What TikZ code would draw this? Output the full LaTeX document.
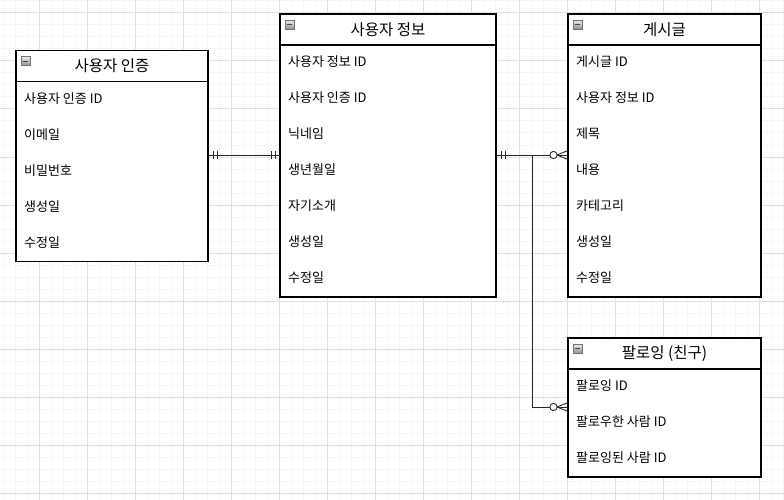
\documentclass[tikz,border=0pt]{standalone}
\usepackage{fontspec}
\setmainfont{Noto Sans CJK KR}
\usetikzlibrary{positioning}
\usetikzlibrary{calc}

\begin{document}
\begin{tikzpicture}[x=1pt, y=-1pt,
        hdr/.style={draw, line width=1.3pt, fill=white, minimum height=31pt, inner sep=0pt, outer sep=0pt, anchor=north west, font=\fontsize{15.5}{18}\selectfont},
        body/.style={draw, line width=1.3pt, fill=white, inner sep=0pt, outer sep=0pt, anchor=north west},
        row/.style={anchor=west, inner sep=0pt, font=\fontsize{13}{15}\selectfont},
        icon/.style={draw=black!55, top color=black!8, bottom color=black!45, minimum size=9pt, inner sep=0pt, anchor=north west,
            path picture={\draw[black!75, line width=1pt] ([xshift=2pt]path picture bounding box.west) -- ([xshift=-2pt]path picture bounding box.east);}},
        rel/.style={draw=black!85, line width=0.9pt},
        bars/.pic={\draw[rel] (5,-4) -- (5,4) (9,-4) -- (9,4);},
        foot/.pic={\draw[rel] (0,-4.5) -- (11,0) -- (0,4.5); \draw[rel, fill=white] (14.5,0) circle (3.6pt);}]
        \useasboundingbox (0,0) rectangle (784,500);

        % grid
        \foreach \x in {0,...,65} \draw[black!4, line width=1pt] ({3.5+12*\x},0) -- ({3.5+12*\x},500);
        \foreach \y in {0,...,41} \draw[black!4, line width=1pt] (0,{1+12*\y}) -- (784,{1+12*\y});
        \foreach \x in {0,...,15} \draw[black!12, line width=1pt] ({39.5+48*\x},0) -- ({39.5+48*\x},500);
        \foreach \y in {0,...,10} \draw[black!12, line width=1pt] (0,{13+48*\y}) -- (784,{13+48*\y});

        % entities
        \node[hdr, minimum width=192pt] (auth) at (16,50.5) {사용자 인증};
        \node[body, minimum width=192pt, minimum height=180pt] (authb) at (auth.south west) {};
        \node[hdr, minimum width=216pt] (info) at (280,14) {사용자 정보};
        \node[body, minimum width=216pt, minimum height=252pt] (infob) at (info.south west) {};
        \node[hdr, minimum width=193pt] (post) at (568,14) {게시글};
        \node[body, minimum width=193pt, minimum height=252pt] (postb) at (post.south west) {};
        \node[hdr, minimum width=193pt] (foll) at (568,338) {팔로잉 (친구)};
        \node[body, minimum width=193pt, minimum height=108pt] (follb) at (foll.south west) {};

        \foreach \e in {auth, info, post, foll}
            \node[icon] (\e i) at ([shift={(5,6)}]\e.north west) {};

        \foreach \t [count=\i] in {사용자 인증 ID, 이메일, 비밀번호, 생성일, 수정일}
            \node[row] (auth\i) at ($(authb.north west)+(8,{17+36*(\i-1)})$) {\t};
        \foreach \t [count=\i] in {사용자 정보 ID, 사용자 인증 ID, 닉네임, 생년월일, 자기소개, 생성일, 수정일}
            \node[row] (info\i) at ($(infob.north west)+(8,{17+36*(\i-1)})$) {\t};
        \foreach \t [count=\i] in {게시글 ID, 사용자 정보 ID, 제목, 내용, 카테고리, 생성일, 수정일}
            \node[row] (post\i) at ($(postb.north west)+(8,{17+36*(\i-1)})$) {\t};
        \foreach \t [count=\i] in {팔로잉 ID, 팔로우한 사람 ID, 팔로잉된 사람 ID}
            \node[row] (foll\i) at ($(follb.north west)+(8,{17+36*(\i-1)})$) {\t};

        % relations
        \coordinate (m1) at (0,155);
        \coordinate (m2) at (0,407);
        \draw[rel] (authb.east |- m1) -- (infob.west |- m1);
        \draw[rel] (infob.east |- m1) -- (postb.west |- m1);
        \draw[rel] (infob.east |- m1) -- ($(infob.east |- m1)!0.5!(postb.west |- m1)$) |- (follb.west |- m2);

        \pic at (authb.east |- m1) {bars};
        \pic[rotate=180] at (infob.west |- m1) {bars};
        \pic at (infob.east |- m1) {bars};
        \pic[rotate=180] at (postb.west |- m1) {foot};
        \pic[rotate=180] at (follb.west |- m2) {foot};
    \end{tikzpicture}
\end{document}
